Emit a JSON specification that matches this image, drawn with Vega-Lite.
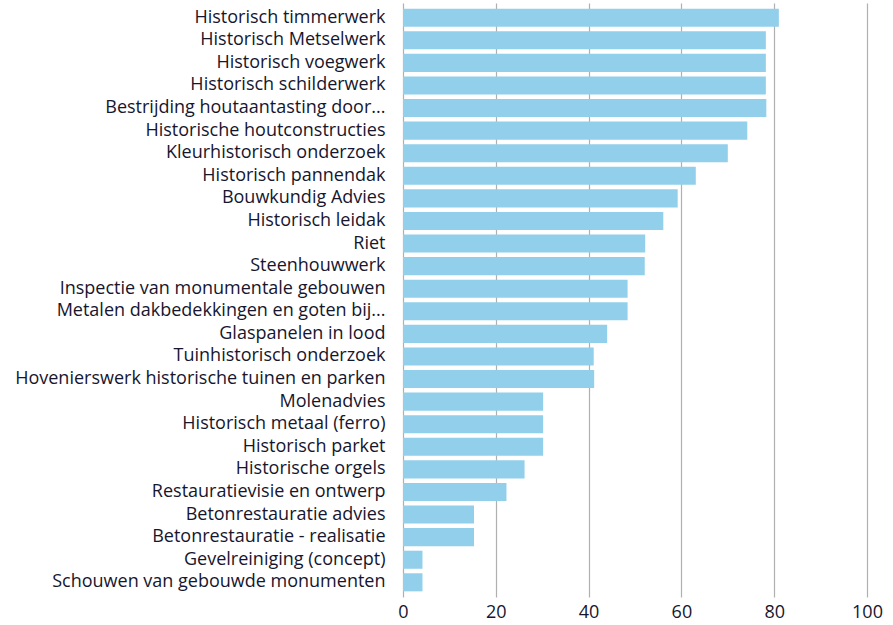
{
  "$schema": "https://vega.github.io/schema/vega-lite/v6.json",
  "autosize": "none",
  "width": 464,
  "height": 594,
  "padding": {"left": 403, "top": 3, "right": 26, "bottom": 28},
  "background": "white",
  "data": {"values": [
    {"categorie": "Historisch timmerwerk", "waarde": 81.0},
    {"categorie": "Historisch Metselwerk", "waarde": 78.2},
    {"categorie": "Historisch voegwerk", "waarde": 78.2},
    {"categorie": "Historisch schilderwerk", "waarde": 78.2},
    {"categorie": "Bestrijding houtaantasting door...", "waarde": 78.3},
    {"categorie": "Historische houtconstructies", "waarde": 74.2},
    {"categorie": "Kleurhistorisch onderzoek", "waarde": 70.0},
    {"categorie": "Historisch pannendak", "waarde": 63.1},
    {"categorie": "Bouwkundig Advies", "waarde": 59.2},
    {"categorie": "Historisch leidak", "waarde": 56.1},
    {"categorie": "Riet", "waarde": 52.2},
    {"categorie": "Steenhouwwerk", "waarde": 52.1},
    {"categorie": "Inspectie van monumentale gebouwen", "waarde": 48.4},
    {"categorie": "Metalen dakbedekkingen en goten bij...", "waarde": 48.4},
    {"categorie": "Glaspanelen in lood", "waarde": 44.0},
    {"categorie": "Tuinhistorisch onderzoek", "waarde": 41.1},
    {"categorie": "Hovenierswerk historische tuinen en parken", "waarde": 41.2},
    {"categorie": "Molenadvies", "waarde": 30.2},
    {"categorie": "Historisch metaal (ferro)", "waarde": 30.2},
    {"categorie": "Historisch parket", "waarde": 30.2},
    {"categorie": "Historische orgels", "waarde": 26.2},
    {"categorie": "Restauratievisie en ontwerp", "waarde": 22.3},
    {"categorie": "Betonrestauratie advies", "waarde": 15.3},
    {"categorie": "Betonrestauratie - realisatie", "waarde": 15.3},
    {"categorie": "Gevelreiniging (concept)", "waarde": 4.2},
    {"categorie": "Schouwen van gebouwde monumenten", "waarde": 4.2}
  ]},
  "mark": {"type": "bar", "color": "#92cfeb"},
  "encoding": {
    "y": {
      "field": "categorie", "type": "nominal", "sort": null,
      "scale": {"paddingInner": 0.2, "paddingOuter": 0.25},
      "axis": {"title": null, "ticks": false, "domain": false, "labelPadding": 18,
               "labelFont": "Open Sans", "labelFontSize": 18, "labelColor": "#16162e", "labelLimit": 420}
    },
    "x": {
      "field": "waarde", "type": "quantitative",
      "scale": {"domain": [0, 100]},
      "axis": {"title": null, "values": [0, 20, 40, 60, 80, 100], "ticks": false, "domain": false,
               "grid": true, "gridColor": "#b0b0b0", "gridWidth": 1.2, "labelPadding": 6,
               "labelFont": "Open Sans", "labelFontSize": 18, "labelColor": "#16162e", "labelFlush": false}
    }
  },
  "config": {"view": {"stroke": null}}
}
